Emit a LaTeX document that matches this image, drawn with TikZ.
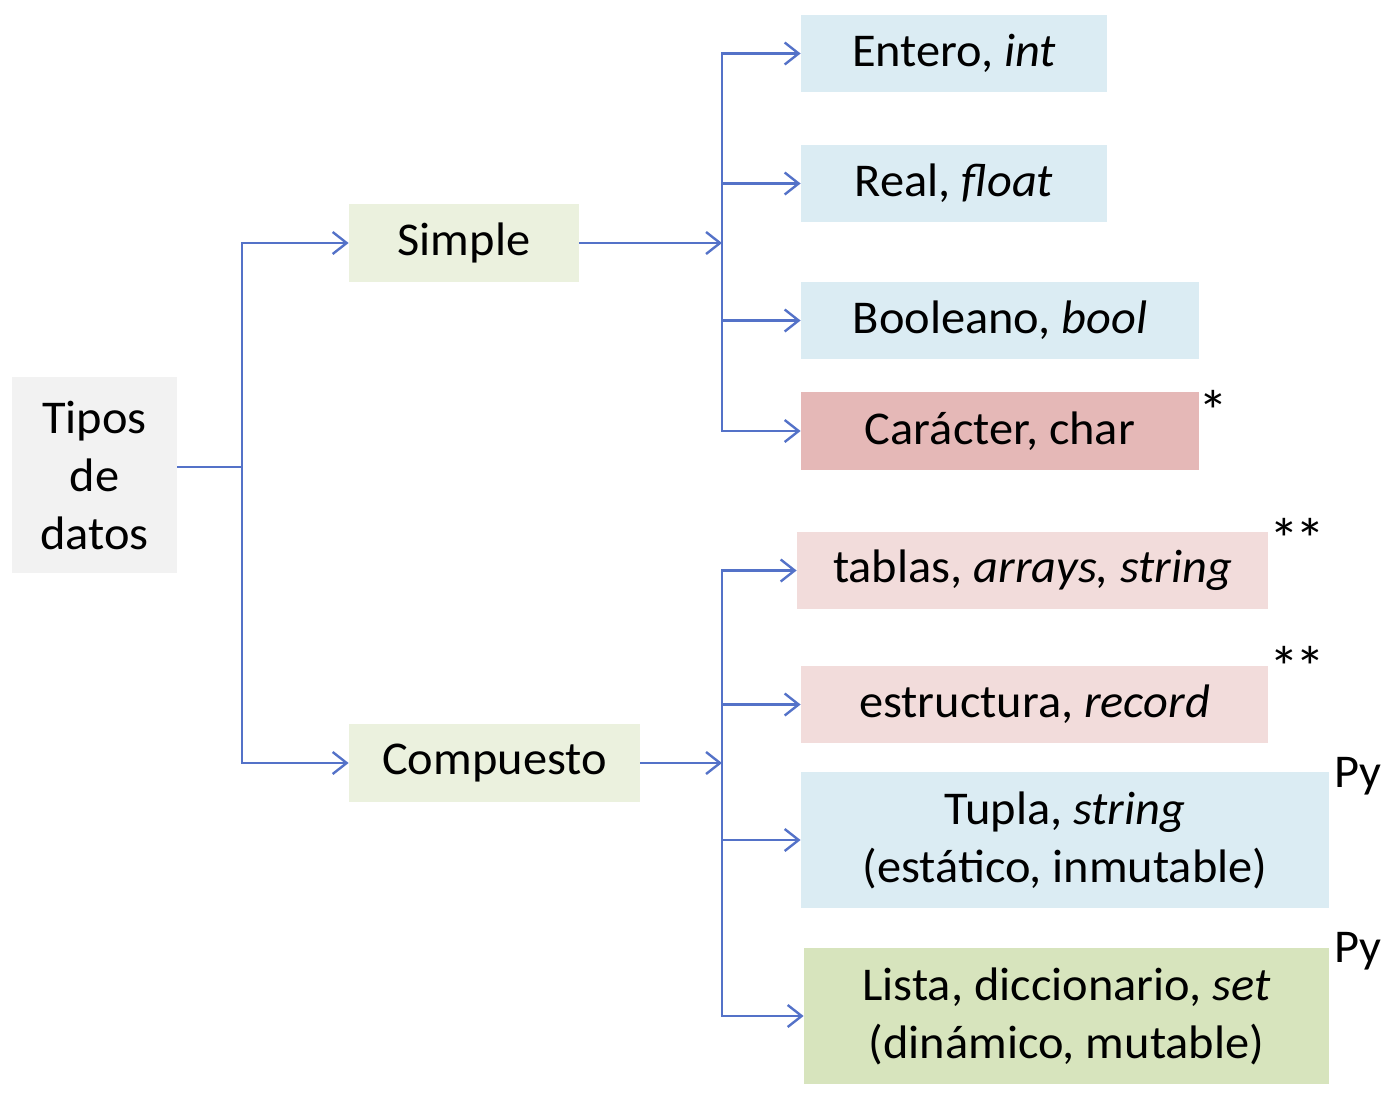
\documentclass[tikz,border=0pt]{standalone}
\usepackage{fontspec}
\setmainfont{Carlito}[FakeStretch=1.03]
\usepackage{xcolor}
\usepackage{tikz}
\usetikzlibrary{positioning, arrows.meta}
\definecolor{tdgris}{RGB}{242, 242, 242}
\definecolor{tdverdeclaro}{RGB}{235, 241, 222}
\definecolor{tdverde}{RGB}{215, 228, 189}
\definecolor{tdceleste}{RGB}{219, 236, 243}
\definecolor{tdrojo}{RGB}{229, 184, 183}
\definecolor{tdrosa}{RGB}{242, 220, 219}
\definecolor{tdazul}{RGB}{84, 114, 200}

\begin{document}
\begin{tikzpicture}[x=0.5pt, y=-0.5pt,
    caja/.style={rectangle, inner sep=0pt, align=center, font=\fontsize{23.5}{29}\selectfont},
    nota/.style={inner sep=0pt, anchor=base, font=\fontsize{23.5}{29}\selectfont},
    asterisco/.style={nota, font=\fontsize{29}{29}\selectfont},
    linea/.style={draw=tdazul, line width=1.2pt},
    flecha/.style={linea, -{Straight Barb[length=7pt, width=11pt]}}]
    \useasboundingbox (0,0) rectangle (1394,1098);

    % Raíz y primer nivel
    \node[caja, fill=tdgris, minimum width=82.5pt, minimum height=98pt] (tipos) at (94.5,475) {Tipos\\de\\datos};
    \node[caja, fill=tdverdeclaro, minimum width=115pt, minimum height=39pt] (simple) at (464,243) {Simple};
    \node[caja, fill=tdverdeclaro, minimum width=145.5pt, minimum height=39pt] (compuesto) at (494.5,763) {Compuesto};

    % Tipos simples
    \node[caja, fill=tdceleste, minimum width=153pt, minimum height=38.5pt] (entero) at (954,53.5) {Entero, \textit{int}};
    \node[caja, fill=tdceleste, minimum width=153pt, minimum height=38.5pt] (real) at (954,183.5) {Real, \textit{float}};
    \node[caja, fill=tdceleste, minimum width=199pt, minimum height=38.5pt] (booleano) at (1000,320.5) {Booleano, \textit{bool}};
    \node[caja, fill=tdrojo, minimum width=199pt, minimum height=39pt] (caracter) at (1000,431) {Carácter, char};

    % Tipos compuestos
    \node[caja, fill=tdrosa, minimum width=235.5pt, minimum height=38.5pt] (tablas) at (1032.5,570.5) {tablas, \textit{arrays, string}};
    \node[caja, fill=tdrosa, minimum width=233.5pt, minimum height=38.5pt] (estructura) at (1034.5,704.5) {estructura, \textit{record}};
    \node[caja, fill=tdceleste, minimum width=264pt, minimum height=68pt] (tupla) at (1065,840) {Tupla, \textit{string}\\(estático, inmutable)};
    \node[caja, fill=tdverde, minimum width=262.5pt, minimum height=68pt] (lista) at (1066.5,1016) {Lista, diccionario, \textit{set}\\(dinámico, mutable)};

    % Notas
    \node[asterisco] (ast1) at (1213,431) {*};
    \node[asterisco] (ast2) at (1297,559) {*\kern-2pt*};
    \node[asterisco] (ast3) at (1297,687) {*\kern-2pt*};
    \node[nota] (py1) at (1358,787) {Py};
    \node[nota] (py2) at (1358,962) {Py};

    % Conectores
    \coordinate (rama) at (242,467);
    \coordinate (rsimple) at (722,243);
    \coordinate (rcomp) at (722,763);
    \draw[linea] (tipos.east |- rama) -- (rama);
    \draw[flecha] (rama) |- (simple.west);
    \draw[flecha] (rama) |- (compuesto.west);
    \draw[flecha] (simple.east) -- (rsimple);
    \draw[flecha] (compuesto.east) -- (rcomp);
    \foreach \n in {entero, real, booleano, caracter} {
        \draw[flecha] (rsimple) |- (\n.west);
    }
    \foreach \n in {tablas, estructura, tupla, lista} {
        \draw[flecha] (rcomp) |- (\n.west);
    }
\end{tikzpicture}
\end{document}
